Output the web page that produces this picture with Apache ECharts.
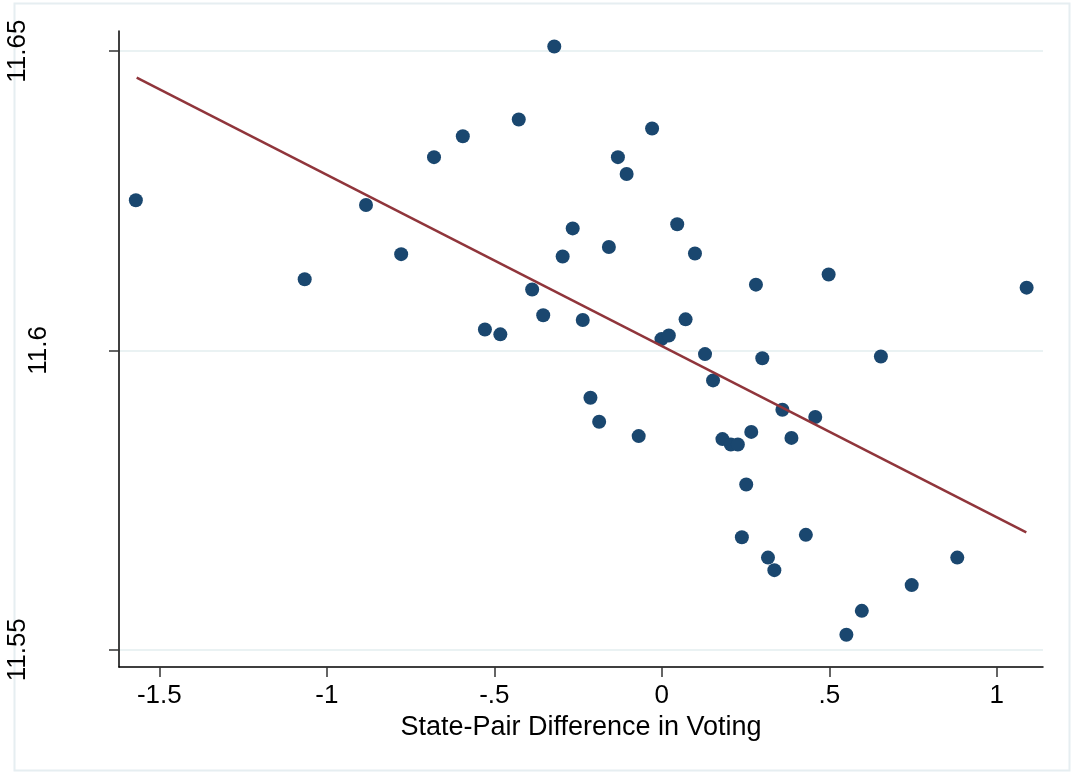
<!DOCTYPE html>
<html><head><meta charset="utf-8">
<script src="https://cdn.jsdelivr.net/npm/echarts@6/dist/echarts.min.js"></script>
<style>html,body{margin:0;padding:0;background:#fff}#c{width:1072px;height:772px}</style>
</head><body><div id="c"></div><script>
const xValues = [-1.570,-1.066,-0.883,-0.778,-0.680,-0.594,-0.528,-0.482,-0.427,-0.387,
  -0.354,-0.321,-0.296,-0.266,-0.236,-0.213,-0.187,-0.158,-0.131,-0.105,
  -0.069,-0.029,-0.001,0.021,0.046,0.071,0.099,0.129,0.153,0.181,
  0.206,0.227,0.239,0.252,0.267,0.281,0.300,0.317,0.336,0.360,
  0.387,0.430,0.458,0.498,0.551,0.597,0.654,0.746,0.882,1.089];
const yValues = [11.6251,11.6119,11.6243,11.6161,11.6323,11.6358,11.6035,11.6027,11.6386,11.6102,
  11.6059,11.6508,11.6157,11.6204,11.6051,11.5921,11.5881,11.6173,11.6323,11.6295,
  11.5857,11.6371,11.6019,11.6025,11.6211,11.6052,11.6162,11.5994,11.5950,11.5852,
  11.5843,11.5843,11.5688,11.5776,11.5864,11.6110,11.5987,11.5654,11.5633,11.5901,
  11.5854,11.5692,11.5889,11.6127,11.5525,11.5565,11.5990,11.5608,11.5654,11.6105];
const fitX = [-1.5675, 1.088];
const fitY = [11.6456, 11.5696];
const xTicks = [-1.5, -1, -0.5, 0, 0.5, 1];
const xTickLabels = ['-1.5', '-1', '-.5', '0', '.5', '1'];
const yTicks = [11.55, 11.6, 11.65];
const yTickLabels = ['11.55', '11.6', '11.65'];
const xTitle = 'State-Pair Difference in Voting';

const points = xValues.map((x, i) => [x, yValues[i]]);
const fitLine = fitX.map((x, i) => [x, fitY[i]]);
function lab(ticks, labels, v) {
  const i = ticks.findIndex(t => Math.abs(t - v) < 1e-9);
  return i >= 0 ? labels[i] : '';
}
const font = 'Liberation Sans, Arial, sans-serif';
const chart = echarts.init(document.getElementById('c'), null, {renderer: 'canvas'});
chart.setOption({
  backgroundColor: '#fff',
  animation: false,
  graphic: [{type: 'rect', shape: {x: 14.5, y: 3.5, width: 1055, height: 767},
    style: {fill: 'none', stroke: '#e6eef1', lineWidth: 2}, silent: true}],
  grid: {left: 119, right: 29, top: 31, bottom: 105, containLabel: false},
  xAxis: {
    type: 'value', min: -1.6203, max: 1.1379,
    name: xTitle, nameLocation: 'middle', nameGap: 47,
    nameTextStyle: {fontFamily: font, fontSize: 27, color: '#000'},
    axisLine: {show: true, onZero: false, lineStyle: {color: '#000', width: 1.5}},
    axisTick: {show: true, length: 10, customValues: xTicks, lineStyle: {color: '#333', width: 1.5}},
    axisLabel: {customValues: xTicks, margin: 16, fontFamily: font, fontSize: 26, color: '#000',
      formatter: v => lab(xTicks, xTickLabels, v)},
    splitLine: {show: false}
  },
  yAxis: {
    type: 'value', min: 11.54712, max: 11.65338,
    axisLine: {show: true, onZero: false, lineStyle: {color: '#000', width: 1.5}},
    axisTick: {show: true, length: 10, customValues: yTicks, lineStyle: {color: '#333', width: 1.5}},
    axisLabel: {customValues: yTicks, rotate: 90, margin: 67, fontFamily: font, fontSize: 26, color: '#000',
      formatter: v => { const s = lab(yTicks, yTickLabels, v); return s.length === 4 ? '{s|' + s + '}' : '{l|' + s + '}'; },
      rich: {s: {fontFamily: font, fontSize: 26, color: '#000'},
             l: {fontFamily: font, fontSize: 26, color: '#000', padding: [0, 0, 21, 0]}}},
    splitLine: {show: true, lineStyle: {color: '#eaf2f3', width: 2}}
  },
  series: [
    {type: 'scatter', data: points, symbol: 'circle', symbolSize: 14,
      itemStyle: {color: '#1a476f', opacity: 1}, z: 2},
    {type: 'line', data: fitLine, symbol: 'none', lineStyle: {color: '#90353b', width: 2.5}, z: 3}
  ]
});
</script></body></html>
